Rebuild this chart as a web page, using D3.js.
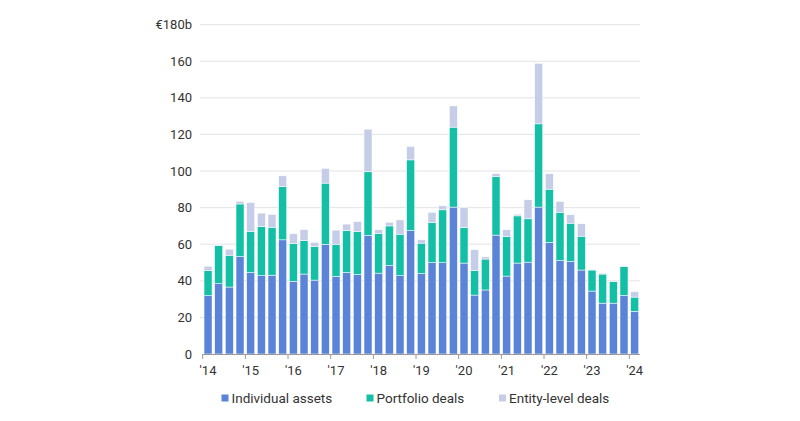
<!DOCTYPE html>
<html><head><meta charset="utf-8">
<script src="https://cdn.jsdelivr.net/npm/d3@7"></script>
<style>body{margin:0;background:#fff;}svg{display:block;font-family:Roboto,"Noto Sans",sans-serif;}</style>
</head><body><div id="chart"></div>
<script>
const quarters = d3.range(41).map(i => `${2014 + Math.floor(i/4)}Q${i%4+1}`);
const yearLabels = ["'14","'15","'16","'17","'18","'19","'20","'21","'22","'23","'24"];
const yTicks = [0,20,40,60,80,100,120,140,160,180];
const seriesNames = ["Individual assets","Portfolio deals","Entity-level deals"];
const colors = ["#5b84d8","#13c0a6","#c6cde8"];
const individual = [31.9,38.4,36.6,53.3,44.6,42.8,43.1,62.4,39.7,43.7,40.4,60.0,
  42.4,44.6,43.5,64.8,44.2,48.4,42.8,67.5,44.0,50.0,49.9,80.3,
  49.7,32.2,35.0,65.0,42.6,49.7,50.2,80.3,61.0,51.1,50.6,45.9,34.4,27.8,27.8,32.0,23.3];
const portfolio = [13.6,20.9,17.4,28.7,22.4,26.9,26.2,29.1,20.7,18.3,18.4,33.4,
  17.6,22.9,23.5,34.8,21.8,21.6,22.7,38.6,16.6,21.9,28.9,43.7,
  19.3,13.5,16.9,32.0,21.6,25.8,23.7,45.5,29.1,26.4,20.9,18.5,11.5,15.9,11.7,15.7,7.8];
const entity = [2.5,0.4,3.3,1.5,15.8,7.3,7.0,5.9,5.3,6.0,2.2,8.0,
  7.7,3.5,5.4,23.3,1.9,2.0,7.8,7.3,1.8,5.5,2.2,11.6,
  10.9,11.3,1.2,1.6,3.7,0.9,10.4,33.1,8.4,5.9,4.6,6.8,0.3,0.5,0.0,0.3,2.9];

const W=800,H=421;
const svg=d3.select("#chart").append("svg").attr("width",W).attr("height",H);
const x0=202.7, x1=640;
const x=d3.scaleBand().domain(quarters).range([x0,x1]).paddingInner(0.25).paddingOuter(0.125);
const y=d3.scaleLinear().domain([0,180]).range([354,24.7]);

// grid
svg.append("g").selectAll("line").data(yTicks.filter(d=>d>0)).join("line")
  .attr("x1",200).attr("x2",x1).attr("y1",d=>y(d)).attr("y2",d=>y(d))
  .attr("stroke","#e3e3e3").attr("stroke-width",1);
// y labels
svg.append("g").selectAll("text").data(yTicks).join("text")
  .attr("x",192).attr("y",d=>y(d)).attr("dy","0.35em").attr("text-anchor","end")
  .attr("font-size",13).attr("fill","#333")
  .text(d=>d===180?"€180b":d);

const data=quarters.map((q,i)=>({q,a:individual[i],b:portfolio[i],c:entity[i]}));
const stack=d3.stack().keys(["a","b","c"])(data);
svg.append("g").selectAll("g").data(stack).join("g").attr("fill",(d,i)=>colors[i])
  .selectAll("rect").data(d=>d).join("rect")
  .attr("x",d=>x(d.data.q)).attr("width",x.bandwidth())
  .attr("y",d=>y(d[1])).attr("height",d=>Math.max(0,y(d[0])-y(d[1])))
  .attr("stroke","#fff").attr("stroke-width",0.5);

// x axis
const step=x.step();
const ax=svg.append("g");
ax.append("line").attr("x1",x0).attr("x2",x1).attr("y1",354.5).attr("y2",354.5).attr("stroke","#9a9a9a");
yearLabels.forEach((lab,k)=>{
  const q=quarters[k*4];
  const tx=x(q)-step*x.paddingInner()/2;
  ax.append("line").attr("x1",tx).attr("x2",tx).attr("y1",354).attr("y2",359).attr("stroke","#9a9a9a");
  ax.append("text").attr("x",x(q)+x.bandwidth()/2).attr("y",375).attr("text-anchor","middle")
    .attr("font-size",13).attr("fill","#333").text(lab);
});

// legend
const legX=[221.5,366.5,499];
const leg=svg.append("g");
seriesNames.forEach((n,i)=>{
  leg.append("rect").attr("x",legX[i]).attr("y",394.5).attr("width",7).attr("height",7).attr("fill",colors[i]);
  leg.append("text").attr("x",legX[i]+10).attr("y",398).attr("dy","0.35em")
    .attr("font-size",13.5).attr("fill","#333").text(n);
});
</script></body></html>
